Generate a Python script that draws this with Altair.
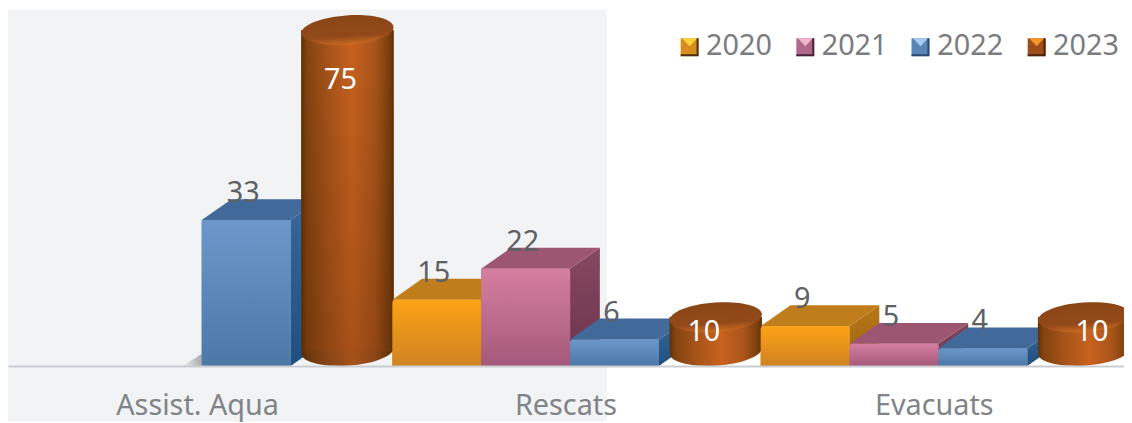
import json
import altair as alt

categories = ["Assist. Aqua", "Rescats", "Evacuats"]
years = ["2020", "2021", "2022", "2023"]
series = {
    "2020": [None, 15, 9],
    "2021": [None, 22, 5],
    "2022": [33, 6, 4],
    "2023": [75, 10, 10],
}
flat = ["#d98d1e", "#b0688a", "#5a84b4", "#9c4f1a"]
FONT = "Noto Sans"
FS = 29
W, H = 1124, 415
PX = 89.5            # px per slot
PY = 4.45            # px per value unit
BASE = 359           # px from top of plot to zero line
GROUP = 4.145        # group spacing in slots
X0 = 0.18
DX, DY = 30 / PX, 21 / PY
xs = alt.Scale(domain=[0, W / PX], nice=False, zero=False)
ys = alt.Scale(domain=[-(H - BASE) / PY, BASE / PY], nice=False, zero=False)


def grad(stops, horizontal=False):
    s = [alt.GradientStop(color=c, offset=o) for o, c in stops]
    if horizontal:
        return alt.Gradient(gradient="linear", stops=s, x1=0, x2=1, y1=0, y2=0)
    return alt.Gradient(gradient="linear", stops=s, x1=0, x2=0, y1=0, y2=1)


STYLE = {
    "2020": dict(front=grad([(0, "#fca315"), (1, "#d08322")]), top="#c07d1c",
                 side=grad([(0, "#b87616"), (1, "#9c6512")])),
    "2021": dict(front=grad([(0, "#d57fa1"), (1, "#a5597a")]), top="#9c5672",
                 side=grad([(0, "#84485f"), (1, "#6d344f")])),
    "2022": dict(front=grad([(0, "#6c97ca"), (1, "#4c78a8")]), top="#41699a",
                 side=grad([(0, "#3a6797"), (1, "#1f4f80")])),
}
CYL = grad([(0, "#5f3208"), (0.06, "#83430f"), (0.3, "#a8541a"), (0.55, "#c8621f"),
            (0.8, "#a9541a"), (0.95, "#7a3f0e"), (1, "#5f3208")], True)
CYL_DARK = grad([(0, "#512b07"), (0.06, "#6b370e"), (0.3, "#8a4618"), (0.55, "#a55119"),
                 (0.8, "#8a4618"), (0.95, "#653409"), (1, "#512b07")], True)
CYL_SHADE = grad([(0, "rgba(60,20,0,0)"), (1, "rgba(60,20,0,0.22)")])
CYL_TOP = grad([(0, "#8a4616"), (0.7, "#92491a"), (1, "#cc6a20")])
ELL = "M -1 0 A 1 0.32 0 1 1 1 0 A 1 0.32 0 1 1 -1 0 Z"
CYL_SIZE = 93 ** 2

ticks = [2.128 + g * GROUP for g in range(len(categories))]
label_expr = json.dumps(categories) + "[round(datum.index*2)]"
AX = alt.Axis(
    values=ticks, labelExpr=label_expr, title=None, grid=False, ticks=False, zindex=1,
    offset=BASE - H, domainColor="#c9cdd2", domainWidth=2,
    labelFont=FONT, labelFontSize=FS, labelColor="#808387", labelPadding=26, labelOverlap=False)

X = alt.X("x:Q", scale=xs, axis=AX)
Y = alt.Y("y:Q", scale=ys, axis=None, stack=None)
Y2 = alt.Y2("y2:Q")
X2 = alt.X2("x2:Q")


def vals(rows):
    return alt.Data(values=rows)


items, layers = [], []
for g, cat in enumerate(categories):
    for s, yr in enumerate(years):
        v = series[yr][g]
        if v is None:
            continue
        x = X0 + g * GROUP + s
        items.append(dict(cat=cat, year=yr, v=v, x=x))
items.sort(key=lambda d: d["x"])

legend_rows = []
for it in items:
    x, v, yr = it["x"], it["v"], it["year"]
    if yr == "2023":
        cx = x + 0.5 + 0.14
        legend_rows.append(dict(year=yr, x=cx - 0.52, x2=cx + 0.52, y=v + 1, y2=3.4))
    else:
        legend_rows.append(dict(year=yr, x=x, x2=x + 1, y=v, y2=0))

# flat layer carries the colour scale and legend (its swatches are drawn bevelled below)
layers.append(alt.Chart(vals(legend_rows)).mark_rect().encode(
    x=X, x2=X2, y=Y, y2=Y2,
    color=alt.Color("year:N", scale=alt.Scale(domain=years, range=flat),
                    legend=alt.Legend(
                        title=None, orient="none", legendX=672, legendY=22, direction="horizontal",
                        columns=4, symbolType="square", symbolSize=324, symbolStrokeWidth=0, symbolOpacity=0,
                        labelFont=FONT, labelFontSize=FS, labelColor="#7a7c80", labelOffset=2,
                        columnPadding=18.5, gridAlign="all", labelLimit=120)),
))

# soft floor shadow beside the first box
sx = items[0]["x"]
layers.append(alt.Chart(vals([dict(x=sx - 0.22, y=0, y2=0), dict(x=sx + 0.02, y=3, y2=0)])).mark_area(
    color=grad([(0, "#f2f3f4"), (1, "#a4a4a4")], True)).encode(x=X, y=Y, y2=Y2))

for it in items:
    x, v, yr = it["x"], it["v"], it["year"]
    if yr == "2023":
        cx = x + 0.5 + 0.14
        pt = lambda yy: [dict(x=cx, y=yy)]
        body = [dict(x=cx - 0.52, x2=cx + 0.52, y=v + 1, y2=3.4)]
        layers.append(alt.Chart(vals(pt(3.4))).mark_point(
            shape=ELL, size=CYL_SIZE, filled=True, opacity=1, color=CYL_DARK if v > 20 else CYL,
            strokeWidth=0, angle=356).encode(x=X, y=Y))
        layers.append(alt.Chart(vals(body)).mark_rect(color=CYL).encode(x=X, x2=X2, y=Y, y2=Y2))
        if v > 20:
            layers.append(alt.Chart(vals(body)).mark_rect(color=CYL_SHADE).encode(x=X, x2=X2, y=Y, y2=Y2))
        layers.append(alt.Chart(vals(pt(v + 1))).mark_point(
            shape=ELL, size=CYL_SIZE, filled=True, opacity=1, color=CYL_TOP, strokeWidth=0, angle=356).encode(x=X, y=Y))
    else:
        st = STYLE[yr]
        side = [dict(x=x + 1, y=v, y2=0), dict(x=x + 1 + DX, y=v + DY, y2=DY)]
        top = [dict(x=x, y=v, y2=v), dict(x=x + DX, y=v + DY, y2=v),
               dict(x=x + 1, y=v + DY, y2=v), dict(x=x + 1 + DX, y=v + DY, y2=v + DY)]
        layers.append(alt.Chart(vals(side)).mark_area(color=st["side"]).encode(x=X, y=Y, y2=Y2))
        layers.append(alt.Chart(vals(top)).mark_area(color=st["top"]).encode(x=X, y=Y, y2=Y2))
        layers.append(alt.Chart(vals([dict(x=x, x2=x + 1, y=v, y2=0)])).mark_rect(
            color=st["front"], cornerRadiusTopLeft=3, cornerRadiusTopRight=3).encode(x=X, x2=X2, y=Y, y2=Y2))

# value labels
for it in items:
    x, v, yr = it["x"], it["v"], it["year"]
    if yr == "2023":
        cx = x + 0.5 + 0.14
        dy = 59 if v > 20 else 24
        tx = cx - (7 if v > 20 else 12 if it["cat"] == "Rescats" else -8) / PX
        rows = [dict(x=tx, y=v + 1, t=str(v))]
        layers.append(alt.Chart(vals(rows)).mark_text(
            font=FONT, fontSize=FS, color="#ffffff", baseline="alphabetic", dy=dy).encode(x=X, y=Y, text="t:N"))
    else:
        rows = [dict(x=x + 0.5 - 3 / PX, y=v, t=str(v))]
        layers.append(alt.Chart(vals(rows)).mark_text(
            font=FONT, fontSize=FS, color="#5d6064", baseline="alphabetic", dy=-18).encode(x=X, y=Y, text="t:N"))

# bevelled legend swatches
SQ = "M -1 -1 L 1 -1 L 1 1 L -1 1 Z"
TRI_T = "M -0.85 -1 L 0.85 -1 L 0 -0.1 Z"
FRAME = "M 1 -1 L 1 1 L -1 1 L -1 0.78 L 0.78 0.78 L 0.78 -1 Z"
one = vals([{}])
swatch_x = [686.5, 803, 919, 1036]
for px, base, lite, dark in zip(swatch_x, flat,
                                ["#fdd23c", "#f0b4cc", "#a6cdf0", "#f5962a"],
                                ["#4a3010", "#4a2236", "#284a70", "#4a2408"]):
    for shape, col in ((SQ, base), (TRI_T, lite), (FRAME, dark)):
        layers.append(alt.Chart(one).mark_point(
            shape=shape, size=324, filled=True, opacity=1, color=col, strokeWidth=0).encode(
            x=alt.value(px), y=alt.value(38)))

panel = alt.Chart(one).mark_rect(color="#f2f3f4").encode(
    x=alt.value(0), x2=alt.value(603), y=alt.value(0), y2=alt.value(H))

chart = alt.layer(panel, *layers).resolve_scale(x="shared", y="shared").properties(
    width=W, height=H, padding=0, background="#ffffff",
    autosize=alt.AutoSizeParams(type="none"),
).configure_view(strokeWidth=0)

chart.save("out.html", embed_options={"renderer": "svg", "actions": False})
